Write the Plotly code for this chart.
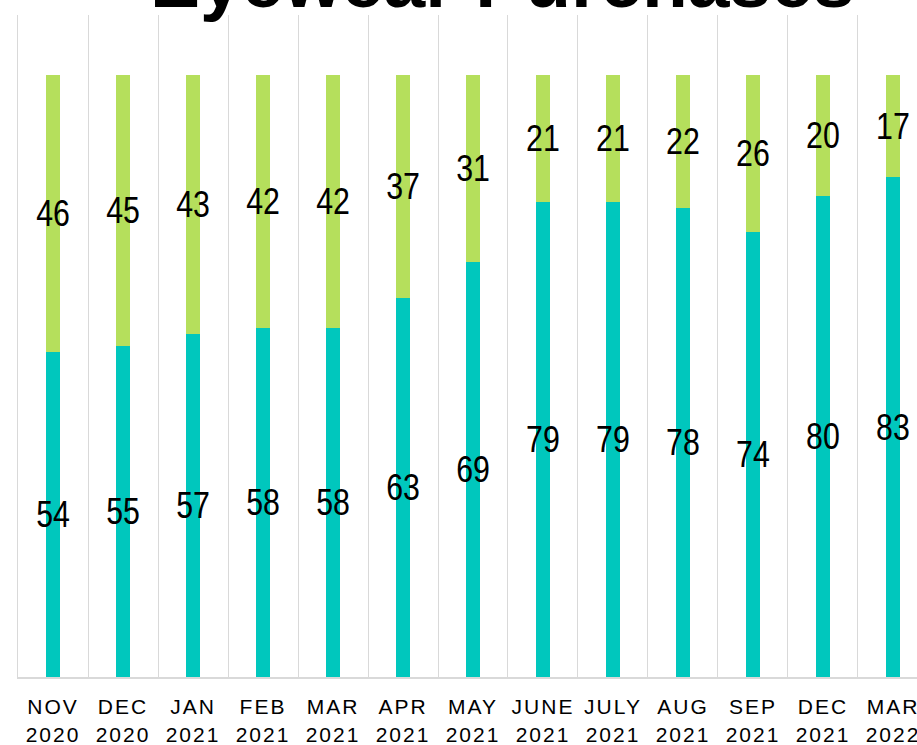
import plotly.graph_objects as go

# ---- data ----
months = ["NOV", "DEC", "JAN", "FEB", "MAR", "APR", "MAY", "JUNE", "JULY", "AUG", "SEP", "DEC", "MAR"]
years = ["2020", "2020", "2021", "2021", "2021", "2021", "2021", "2021", "2021", "2021", "2021", "2021", "2022"]
bottom_values = [54, 55, 57, 58, 58, 63, 69, 79, 79, 78, 74, 80, 83]
top_values = [46, 45, 43, 42, 42, 37, 31, 21, 21, 22, 26, 20, 17]
title_text = "Eyewear Purchases"

categories = [f"{m}<br>{y}" for m, y in zip(months, years)]

TEAL = "#00C7BD"
GREEN = "#B5DF5C"
GRID = "#D9D9D9"
label_font = dict(family="Liberation Sans, Arial", size=37, color="#000000")

fig = go.Figure()
fig.add_trace(go.Bar(
    x=categories, y=bottom_values, marker=dict(color=TEAL, line=dict(width=0)),
    text=[str(v) for v in bottom_values], textposition="inside", insidetextanchor="middle",
    textangle=0, constraintext="none", textfont=label_font, width=0.186, hoverinfo="skip",
))
fig.add_trace(go.Bar(
    x=categories, y=top_values, marker=dict(color=GREEN, line=dict(width=0)),
    text=[str(v) for v in top_values], textposition="inside", insidetextanchor="middle",
    textangle=0, constraintext="none", textfont=label_font, width=0.186, hoverinfo="skip",
))

fig.update_layout(
    template="none",
    barmode="stack",
    width=917, height=745,
    margin=dict(l=18, r=0, t=15, b=68, pad=0),
    paper_bgcolor="white", plot_bgcolor="white",
    showlegend=False,
    xaxis=dict(
        type="category", range=[-0.5, 12.343], tickson="boundaries",
        showgrid=True, gridcolor=GRID, gridwidth=1.3,
        showline=True, linecolor=GRID, linewidth=2,
        ticks="", automargin=False,
        tickfont=dict(family="Liberation Sans, Arial", size=21, color="#000000"),
        ticklabelstandoff=10,
    ),
    yaxis=dict(
        range=[0, 110], showgrid=False, zeroline=False, showticklabels=False,
        showline=True, linecolor=GRID, linewidth=1.3, ticks="", automargin=False,
    ),
    annotations=[dict(
        text=f"<b>{title_text}</b>", xref="paper", yref="paper", x=0.5386, y=1,
        xanchor="center", yanchor="bottom", yshift=-10, showarrow=False,
        font=dict(family="Liberation Sans, Arial", size=75, color="#000000"),
    )],
)

# page styling: no body margin, letter-spaced tick labels, narrow (condensed) bar labels
post = ("document.body.style.margin='0';"
        "document.body.style.overflow='hidden';"
        "var s=document.createElement('style');"
        "s.textContent='.xtick text{letter-spacing:2px}';"
        "document.head.appendChild(s);"
        "document.querySelectorAll('text.bartext').forEach(function(t){"
        "var tr=t.getAttribute('transform')||'';"
        "t.setAttribute('transform', tr+' scale(0.82,1)');});")
fig.write_html("out.html", post_script=post, config={"displayModeBar": False})
